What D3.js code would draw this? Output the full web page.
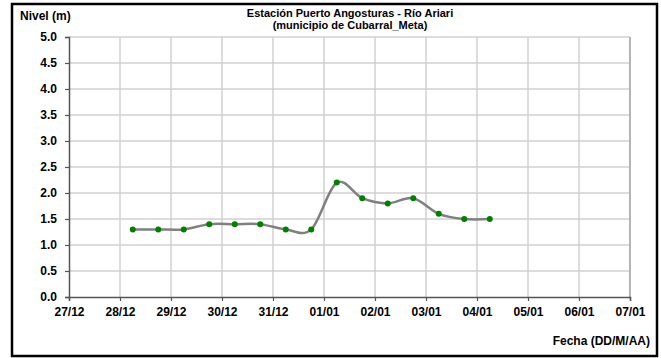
<!DOCTYPE html>
<html>
<head>
<meta charset="utf-8">
<script src="https://cdn.jsdelivr.net/npm/d3@7"></script>
<style>
    body { margin: 0; background: #fff; }
    text { font-family: Arial, "Liberation Sans", sans-serif; font-weight: bold; fill: #000; }
</style>
</head>
<body>
<script>
// datos de la estacion (lecturas cada 12 horas)
var fechas = ["2010-12-28T06:00", "2010-12-28T18:00", "2010-12-29T06:00", "2010-12-29T18:00",
    "2010-12-30T06:00", "2010-12-30T18:00", "2010-12-31T06:00", "2010-12-31T18:00",
    "2011-01-01T06:00", "2011-01-01T18:00", "2011-01-02T06:00", "2011-01-02T18:00",
    "2011-01-03T06:00", "2011-01-03T18:00", "2011-01-04T06:00"];
var nivel = [1.3, 1.3, 1.3, 1.4, 1.4, 1.4, 1.3, 1.3, 2.2, 1.9, 1.8, 1.9, 1.6, 1.5, 1.5];

var xDominio = ["2010-12-27", "2011-01-07"];
var yTicks = [0, 0.5, 1, 1.5, 2, 2.5, 3, 3.5, 4, 4.5, 5];

var titulo = ["Estación Puerto Angosturas - Río Ariari", "(municipio de Cubarral_Meta)"];
var yTitulo = "Nivel (m)";
var xTitulo = "Fecha (DD/M/AA)";

var W = 661, H = 358;
var margin = { top: 37, right: 31, bottom: 61, left: 69 },
    width = W - margin.left - margin.right,
    height = H - margin.top - margin.bottom;

var parseTime = d3.timeParse("%Y-%m-%dT%H:%M");
var parseDay = d3.timeParse("%Y-%m-%d");

var data = fechas.map(function (f, i) {
    return { date: parseTime(f), nivel: nivel[i] };
});

var x = d3.scaleTime()
    .domain(xDominio.map(parseDay))
    .range([0, width]);
var y = d3.scaleLinear().domain([0, 5]).range([height, 0]);

var svg = d3.select("body").append("svg")
    .attr("width", W)
    .attr("height", H);

// marco exterior
svg.append("rect")
    .attr("x", 12).attr("y", 4)
    .attr("width", 645).attr("height", 352)
    .attr("fill", "none")
    .attr("stroke", "#000")
    .attr("stroke-width", 2.5);

var g = svg.append("g")
    .attr("transform", "translate(" + margin.left + "," + margin.top + ")");

var dias = d3.timeDay.range(x.domain()[0], d3.timeDay.offset(x.domain()[1], 1));

// rejilla
g.selectAll(".gy").data(yTicks.slice(1)).enter().append("line")
    .attr("x1", 0).attr("x2", width)
    .attr("y1", function (d) { return y(d); })
    .attr("y2", function (d) { return y(d); })
    .attr("stroke", "#d0d0d0").attr("stroke-width", 1.5);
g.selectAll(".gx").data(dias.slice(1)).enter().append("line")
    .attr("x1", function (d) { return x(d); })
    .attr("x2", function (d) { return x(d); })
    .attr("y1", 0).attr("y2", height)
    .attr("stroke", "#d0d0d0").attr("stroke-width", 1.5);
g.append("line")
    .attr("x1", width).attr("x2", width)
    .attr("y1", 0).attr("y2", height)
    .attr("stroke", "#a8a8a8").attr("stroke-width", 1.5);

// ejes
var yAxis = g.append("g")
    .call(d3.axisLeft(y).tickValues(yTicks).tickSize(4).tickPadding(8).tickFormat(d3.format(".1f")));
var xAxis = g.append("g")
    .attr("transform", "translate(0," + height + ")")
    .call(d3.axisBottom(x).tickValues(dias).tickSize(4).tickPadding(6).tickFormat(d3.timeFormat("%d/%m")));

[yAxis, xAxis].forEach(function (a) {
    a.select(".domain").attr("stroke", "#555").attr("stroke-width", 1.5);
    a.selectAll(".tick line").attr("stroke", "#555").attr("stroke-width", 1.2);
    a.selectAll("text").attr("font-size", 12).attr("font-family", null).attr("fill", "#000");
});

// linea suavizada
var valueline = d3.line()
    .curve(d3.curveCardinal.tension(0))
    .x(function (d) { return x(d.date); })
    .y(function (d) { return y(d.nivel); });

g.append("path")
    .datum(data)
    .attr("fill", "none")
    .attr("stroke", "#808080")
    .attr("stroke-width", 2.5)
    .attr("d", valueline);

g.selectAll(".pt").data(data).enter().append("circle")
    .attr("cx", function (d) { return x(d.date); })
    .attr("cy", function (d) { return y(d.nivel); })
    .attr("r", 3)
    .attr("fill", "#008000");

// textos
svg.selectAll(".titulo").data(titulo).enter().append("text")
    .attr("x", 350)
    .attr("y", function (d, i) { return 16.5 + i * 12.5; })
    .attr("text-anchor", "middle")
    .attr("font-size", 11)
    .text(function (d) { return d; });

svg.append("text")
    .attr("x", 20).attr("y", 20)
    .attr("font-size", 12)
    .text(yTitulo);

svg.append("text")
    .attr("x", 650).attr("y", 345)
    .attr("text-anchor", "end")
    .attr("font-size", 12)
    .text(xTitulo);
</script>
</body>
</html>
